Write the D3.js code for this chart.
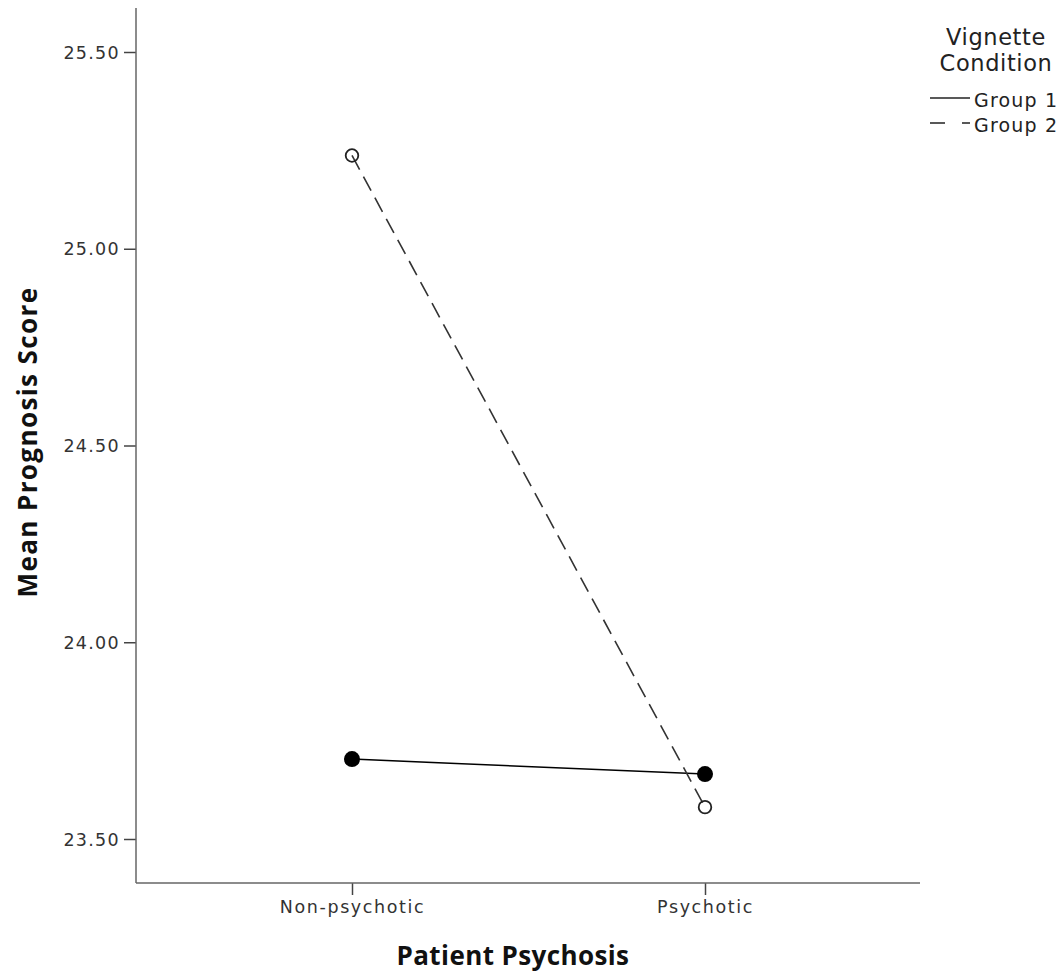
<!DOCTYPE html>
<html>
<head>
<meta charset="utf-8">
<script src="https://cdn.jsdelivr.net/npm/d3@7"></script>
<style>
  html, body { margin: 0; padding: 0; background: #fff; }
  svg { display: block; }
</style>
</head>
<body>
<svg id="chart" width="1064" height="976"></svg>
<script>
const categories = ["Non-psychotic", "Psychotic"];
const seriesNames = ["Group 1", "Group 2"];
const group1Values = [23.703, 23.665];
const group2Values = [25.237, 23.581];
const yTickValues = [23.5, 24.0, 24.5, 25.0, 25.5];
const xTitle = "Patient Psychosis";
const yTitle = "Mean Prognosis Score";
const legendTitle = ["Vignette", "Condition"];

(function () {
const svg = d3.select("#chart");
const plotLeft = 136, plotRight = 920, plotTop = 8, plotBottom = 883;

const y = d3.scaleLinear().domain([23.5, 25.5]).range([839, 52]);
const x = d3.scalePoint().domain(categories).range([352, 705]);

const tickFont = "'DejaVu Sans', Verdana, sans-serif";
const titleFont = "'Open Sans', 'Noto Sans', sans-serif";

// Y axis
const yAxis = d3.axisLeft(y).tickValues(yTickValues).tickFormat(d3.format(".2f")).tickSize(12).tickPadding(4);
const gy = svg.append("g").attr("transform", `translate(${plotLeft},0)`).call(yAxis);
gy.select(".domain").remove();
gy.selectAll(".tick line").attr("stroke", "#444").attr("stroke-width", 1.5);
gy.selectAll(".tick text").attr("font-family", tickFont).attr("font-size", 17.5)
  .attr("letter-spacing", 1.3).attr("fill", "#333").attr("dy", "0.35em");
svg.append("line").attr("x1", plotLeft).attr("x2", plotLeft).attr("y1", plotTop).attr("y2", plotBottom)
  .attr("stroke", "#666").attr("stroke-width", 1.5);

// X axis
const xAxis = d3.axisBottom(x).tickSize(12).tickPadding(6);
const gx = svg.append("g").attr("transform", `translate(0,${plotBottom})`).call(xAxis);
gx.select(".domain").remove();
gx.selectAll(".tick line").attr("stroke", "#444").attr("stroke-width", 1.5);
gx.selectAll(".tick text").attr("font-family", tickFont).attr("font-size", 17.5)
  .attr("letter-spacing", 1.6).attr("fill", "#333");
svg.append("line").attr("x1", plotLeft).attr("x2", plotRight).attr("y1", plotBottom).attr("y2", plotBottom)
  .attr("stroke", "#666").attr("stroke-width", 1.5);

// Titles
svg.append("text").attr("x", 513).attr("y", 965).attr("text-anchor", "middle")
  .attr("font-family", titleFont).attr("font-weight", "bold").attr("font-size", 26)
  .attr("letter-spacing", 0.4).attr("fill", "#111").text(xTitle);
svg.append("text").attr("transform", "translate(37,442) rotate(-90)").attr("text-anchor", "middle")
  .attr("font-family", titleFont).attr("font-weight", "bold").attr("font-size", 26)
  .attr("letter-spacing", 1.4).attr("fill", "#111").text(yTitle);

// Lines
const line = d3.line().x((d, i) => x(categories[i])).y(d => y(d));
svg.append("path").datum(group1Values).attr("d", line).attr("fill", "none")
  .attr("stroke", "#000").attr("stroke-width", 1.5);
svg.append("path").datum(group2Values).attr("d", line).attr("fill", "none")
  .attr("stroke", "#333").attr("stroke-width", 1.6).attr("stroke-dasharray", "16,8");

// Markers
svg.selectAll("circle.g1").data(group1Values).enter().append("circle").attr("class", "g1")
  .attr("cx", (d, i) => x(categories[i])).attr("cy", d => y(d)).attr("r", 8).attr("fill", "#000");
svg.selectAll("circle.g2").data(group2Values).enter().append("circle").attr("class", "g2")
  .attr("cx", (d, i) => x(categories[i])).attr("cy", d => y(d)).attr("r", 6.3)
  .attr("fill", "none").attr("stroke", "#222").attr("stroke-width", 1.8);

// Legend
const lg = svg.append("g");
legendTitle.forEach((t, i) => {
  lg.append("text").attr("x", 996).attr("y", 45 + i * 26).attr("text-anchor", "middle")
    .attr("font-family", tickFont).attr("font-size", 22.5).attr("letter-spacing", 0.6)
    .attr("fill", "#222").text(t);
});
seriesNames.forEach((s, i) => {
  const yy = 98 + i * 25;
  lg.append("line").attr("x1", 930).attr("x2", 970).attr("y1", yy).attr("y2", yy)
    .attr("stroke", "#222").attr("stroke-width", 1.6)
    .attr("stroke-dasharray", i === 1 ? "15,17" : null);
  lg.append("text").attr("x", 974).attr("y", yy + 9)
    .attr("font-family", tickFont).attr("font-size", 19).attr("letter-spacing", 1.2)
    .attr("fill", "#222").text(s);
});
})();
</script>
</body>
</html>
